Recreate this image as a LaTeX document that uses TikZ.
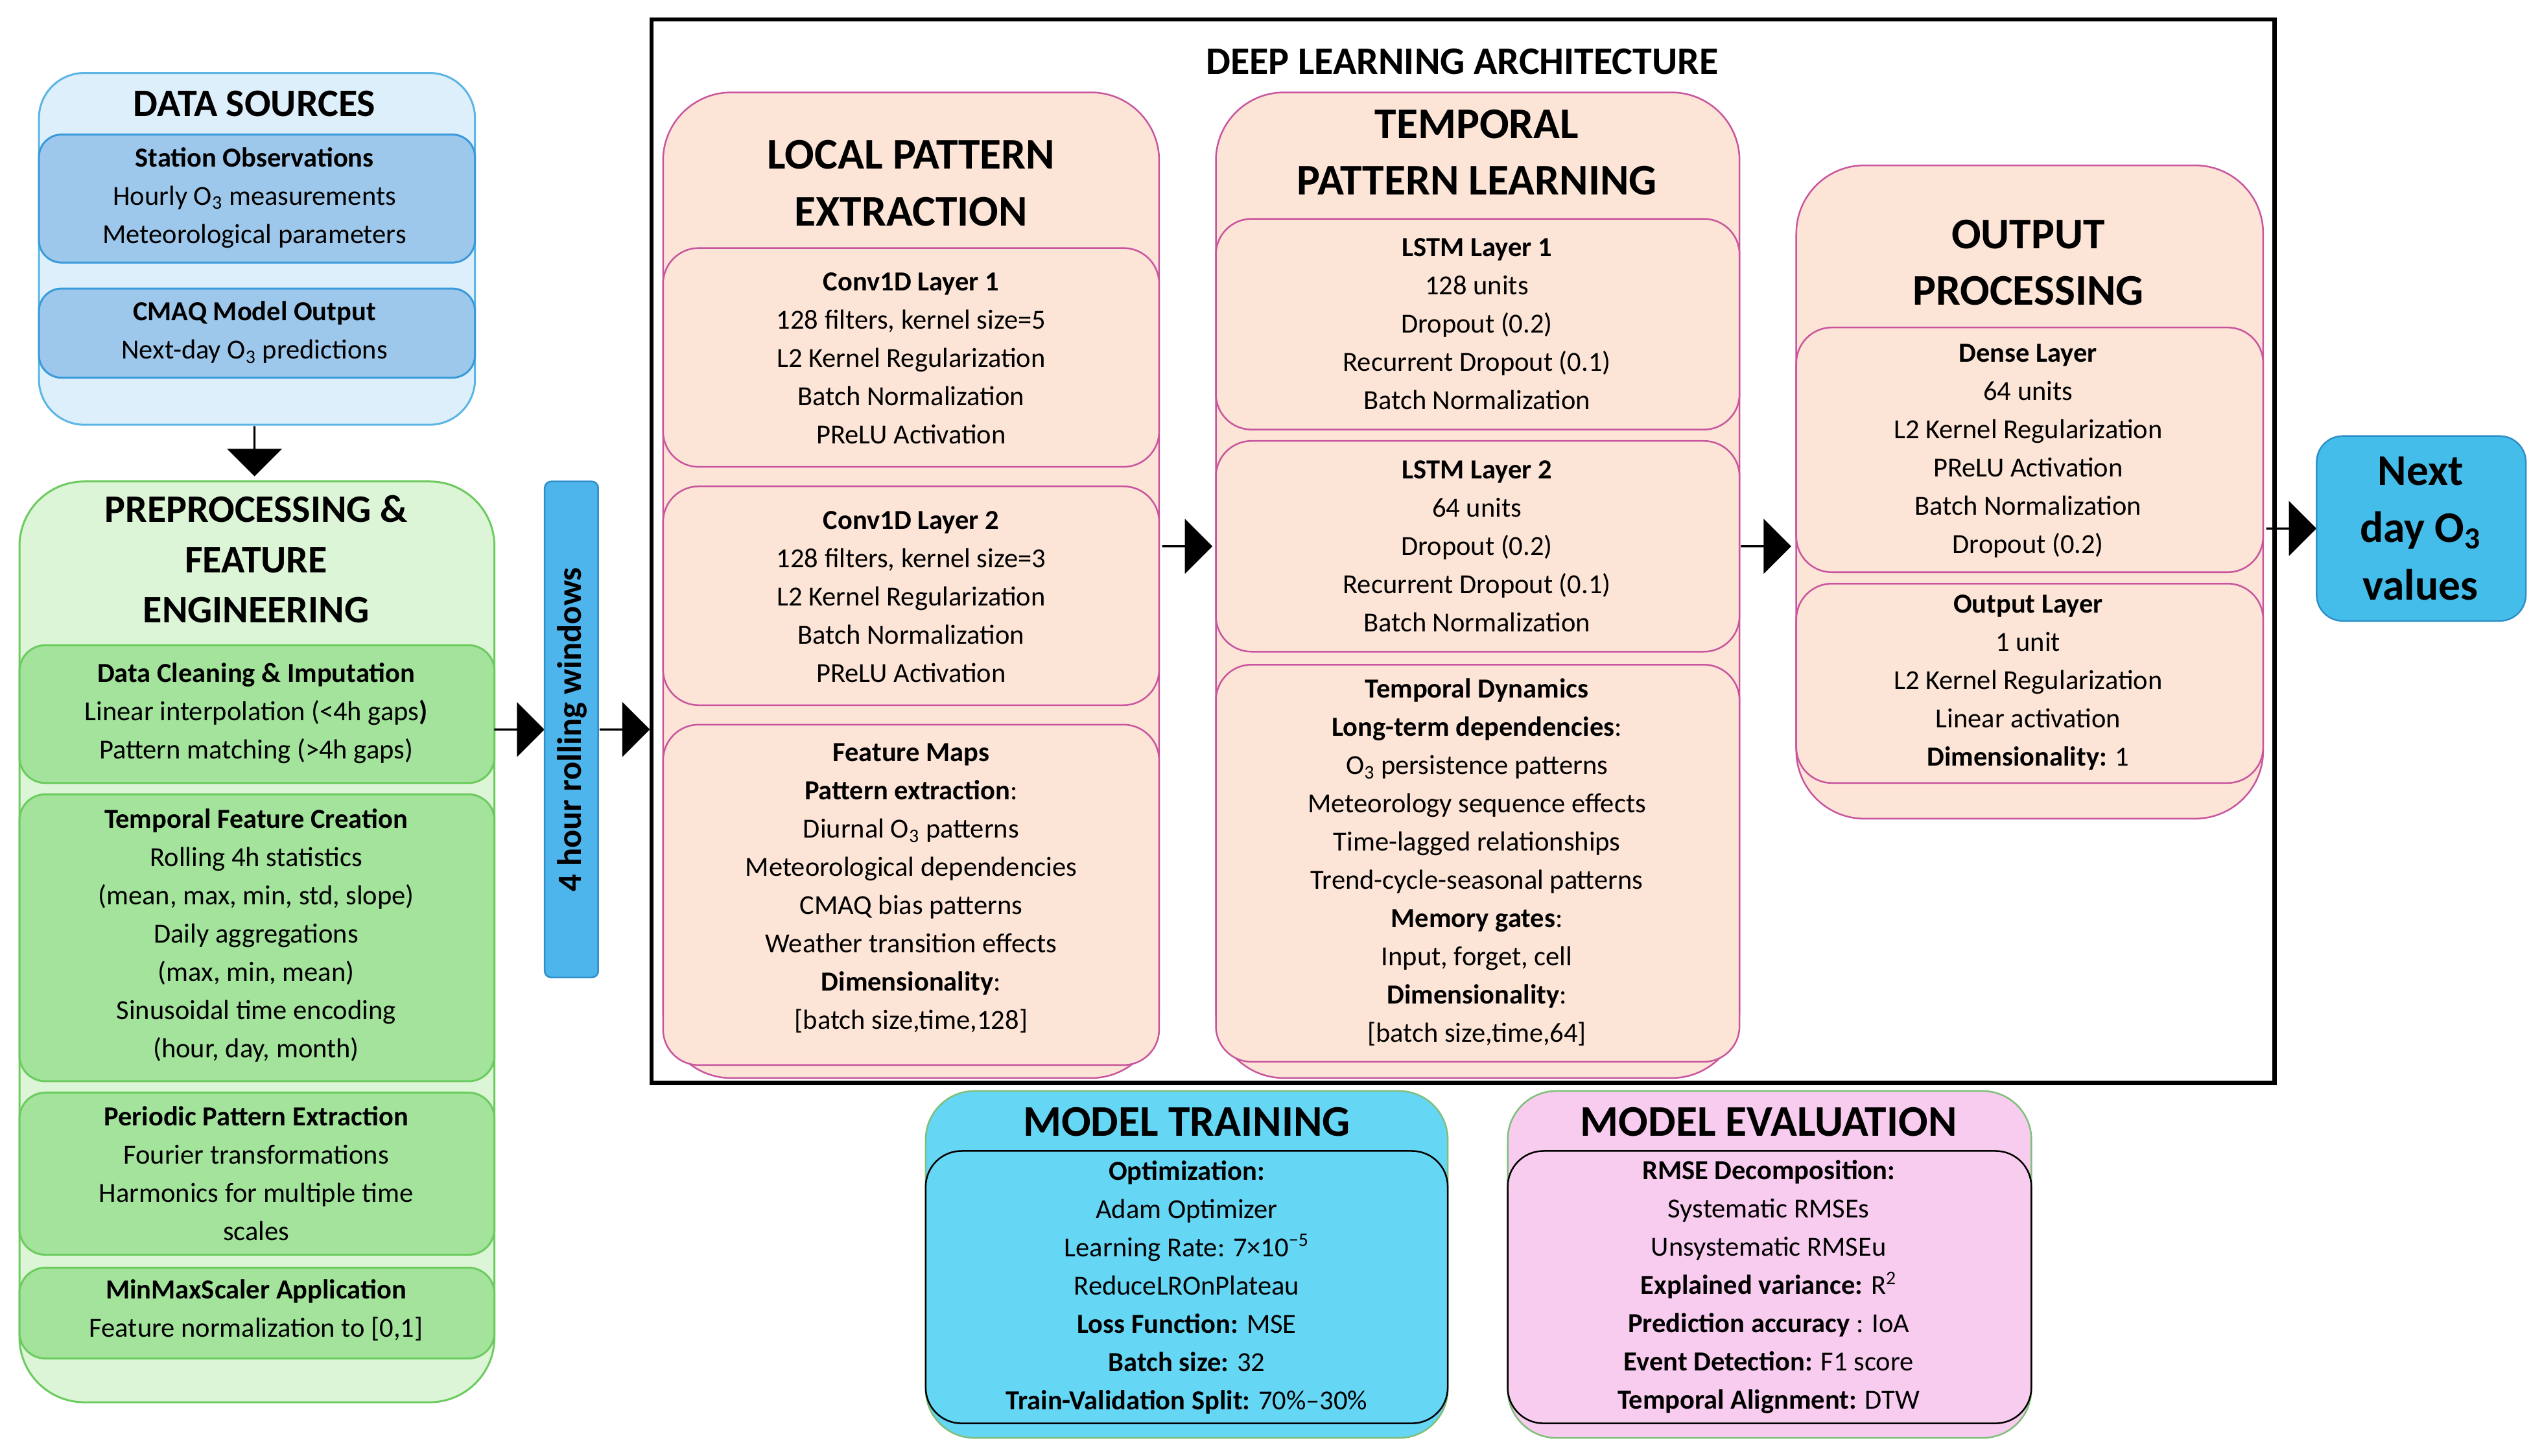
\documentclass[tikz,border=0pt]{standalone}
\usepackage{fontspec}
\setmainfont{Carlito}
\usetikzlibrary{shapes.arrows}
\definecolor{dsO}{HTML}{DDEFFB}\definecolor{dsB}{HTML}{5BB5E5}\definecolor{dsI}{HTML}{9DC8EC}\definecolor{dsIB}{HTML}{3A9AD9}
\definecolor{prO}{HTML}{DDF5D7}\definecolor{prB}{HTML}{6CCB5F}\definecolor{prI}{HTML}{A3E39C}
\definecolor{rolF}{HTML}{4DB5EC}\definecolor{rolB}{HTML}{2F8FC8}
\definecolor{pch}{HTML}{FCE4D6}\definecolor{mag}{HTML}{C8559E}
\definecolor{nxF}{HTML}{45BDEB}
\definecolor{trF}{HTML}{66D6F5}\definecolor{evF}{HTML}{F8CCEE}\definecolor{grB}{HTML}{7FBF7A}
\newcommand\bx[6]{\node[#2,inner sep=0,outer sep=0,minimum width={(#5-#3)*1pt},minimum height={(#6-#4)*1pt}] (#1) at ({(#3+#5)/2},{(#4+#6)/2}) {};}
\newcommand\tx[5]{\node[align=center,inner sep=0,font=#4] (#1) at (#2,#3) {#5};}
\newcommand\bd{\fontsize{17}{23.6}\selectfont}
\newcommand\ttl{\fontsize{24}{31}\selectfont\bfseries}
\newcommand\bigtt{\fontsize{27}{35}\selectfont\bfseries}
\newcommand\sbt{\textsubscript{3}}
\tikzset{
 dso/.style={draw=dsB,fill=dsO,line width=1.2pt,rounded corners=28pt},
 dsi/.style={draw=dsIB,fill=dsI,line width=1.2pt,rounded corners=14pt},
 pro/.style={draw=prB,fill=prO,line width=1.2pt,rounded corners=40pt},
 pri/.style={draw=prB,fill=prI,line width=1.2pt,rounded corners=16pt},
 dlo/.style={draw=mag,fill=pch,line width=1pt,rounded corners=42pt},
 dli/.style={draw=mag,fill=pch,line width=1pt,rounded corners=22pt},
 blk/.style={single arrow,fill=black,draw=none,minimum height=31pt,minimum width=34pt,single arrow head extend=5pt,inner sep=0,single arrow tip angle=90},
}
\begin{document}
\begin{tikzpicture}[x=1pt,y=-1pt]
\useasboundingbox (0,0) rectangle (1568,898);
\fill[white] (0,0) rectangle (1568,898);
% data sources
\bx{ds}{dso}{24}{45}{293}{262}
\tx{dst}{157}{64}{\ttl}{DATA SOURCES}
\bx{ds1}{dsi}{24}{83}{293}{162}
\tx{ds1t}{157}{122}{\bd}{\textbf{Station Observations}\\Hourly O\sbt{} measurements\\Meteorological parameters}
\bx{ds2}{dsi}{24}{178}{293}{233}
\tx{ds2t}{157}{205}{\bd}{\textbf{CMAQ Model Output}\\Next-day O\sbt{} predictions}
\node[blk,rotate=-90] (a1) at (157,278) {};
% preprocessing
\bx{pr}{pro}{12}{297}{305}{865}
\tx{prt}{158}{345}{\ttl}{PREPROCESSING \&\\FEATURE\\ENGINEERING}
\bx{pr1}{pri}{12}{398}{305}{483}
\tx{pr1t}{158}{440}{\bd}{\textbf{Data Cleaning \& Imputation}\\Linear interpolation (<4h gaps\textbf{)}\\Pattern matching (>4h gaps)}
\bx{pr2}{pri}{12}{490}{305}{667}
\tx{pr2t}{158}{577}{\bd}{\textbf{Temporal Feature Creation}\\Rolling 4h statistics\\(mean, max, min, std, slope)\\Daily aggregations\\(max, min, mean)\\Sinusoidal time encoding\\(hour, day, month)}
\bx{pr3}{pri}{12}{674}{305}{774}
\tx{pr3t}{158}{724}{\bd}{\textbf{Periodic Pattern Extraction}\\Fourier transformations\\Harmonics for multiple time\\scales}
\bx{pr4}{pri}{12}{782}{305}{838}
\tx{pr4t}{158}{808}{\bd}{\textbf{MinMaxScaler Application}\\Feature normalization to [0,1]}
\node[blk] (a2) at (320,450) {};
\bx{rol}{draw=rolB,fill=rolF,line width=1pt,rounded corners=4pt}{336}{297}{369}{603}
\tx{rolt}{353}{450}{\fontsize{21}{25}\selectfont\bfseries}{\rotatebox{90}{4 hour rolling windows}}
\node[blk] (a3) at (385,450) {};
% DL
\bx{dl}{draw=black,line width=2.5pt}{402}{12}{1403}{668}
\tx{dlt}{902}{38}{\ttl}{DEEP LEARNING ARCHITECTURE}
\bx{lp}{dlo}{409}{57}{715}{665}
\tx{lpt}{562}{113}{\bigtt}{LOCAL PATTERN\\EXTRACTION}
\bx{lp1}{dli}{409}{153}{715}{288}
\tx{lp1t}{562}{221}{\bd}{\textbf{Conv1D Layer 1}\\128 filters, kernel size=5\\L2 Kernel Regularization\\Batch Normalization\\PReLU Activation}
\bx{lp2}{dli}{409}{300}{715}{435}
\tx{lp2t}{562}{368}{\bd}{\textbf{Conv1D Layer 2}\\128 filters, kernel size=3\\L2 Kernel Regularization\\Batch Normalization\\PReLU Activation}
\bx{lp3}{dli}{409}{447}{715}{657}
\tx{lp3t}{562}{548}{\bd}{\textbf{Feature Maps}\\\textbf{Pattern extraction}:\\Diurnal O\sbt{} patterns\\Meteorological dependencies\\CMAQ bias patterns\\Weather transition effects\\\textbf{Dimensionality}:\\{}[batch size,time,128]}
\node[blk] (a4) at (732,337) {};
\bx{tp}{dlo}{750}{57}{1073}{665}
\tx{tpt}{911}{94}{\bigtt}{TEMPORAL\\PATTERN LEARNING}
\bx{tp1}{dli}{750}{135}{1073}{265}
\tx{tp1t}{911}{200}{\bd}{\textbf{LSTM Layer 1}\\128 units\\Dropout (0.2)\\Recurrent Dropout (0.1)\\Batch Normalization}
\bx{tp2}{dli}{750}{272}{1073}{402}
\tx{tp2t}{911}{337}{\bd}{\textbf{LSTM Layer 2}\\64 units\\Dropout (0.2)\\Recurrent Dropout (0.1)\\Batch Normalization}
\bx{tp3}{dli}{750}{410}{1073}{655}
\tx{tp3t}{911}{532}{\bd}{\textbf{Temporal Dynamics}\\\textbf{Long-term dependencies}:\\O\sbt{} persistence patterns\\Meteorology sequence effects\\Time-lagged relationships\\Trend-cycle-seasonal patterns\\\textbf{Memory gates}:\\Input, forget, cell\\\textbf{Dimensionality}:\\{}[batch size,time,64]}
\node[blk] (a5) at (1089,337) {};
\bx{op}{dlo}{1108}{102}{1396}{505}
\tx{opt}{1251}{162}{\bigtt}{OUTPUT\\PROCESSING}
\bx{op1}{dli}{1108}{202}{1396}{353}
\tx{op1t}{1251}{278}{\bd}{\textbf{Dense Layer}\\64 units\\L2 Kernel Regularization\\PReLU Activation\\Batch Normalization\\Dropout (0.2)}
\bx{op2}{dli}{1108}{360}{1396}{483}
\tx{op2t}{1251}{421}{\bd}{\textbf{Output Layer}\\1 unit\\L2 Kernel Regularization\\Linear activation\\\textbf{Dimensionality:} 1}
\node[blk] (a6) at (1413,326) {};
\bx{nx}{draw=rolB,fill=nxF,line width=1pt,rounded corners=16pt}{1429}{269}{1558}{383}
\tx{nxt}{1493}{326}{\fontsize{27}{35.5}\selectfont\bfseries}{Next\\day O\sbt\\values}
% training
\bx{tr}{draw=grB,fill=trF,line width=1pt,rounded corners=30pt}{571}{673}{893}{887}
\tx{trt}{732}{692}{\bigtt}{MODEL TRAINING}
\bx{tr1}{draw=black,fill=trF,line width=1pt,rounded corners=22pt}{571}{710}{893}{878}
\tx{tr1t}{732}{794}{\bd}{\textbf{Optimization:}\\Adam Optimizer\\Learning Rate: 7×10\textsuperscript{−5}\\ReduceLROnPlateau\\\textbf{Loss Function:} MSE\\\textbf{Batch size:} 32\\\textbf{Train-Validation Split:} 70\%–30\%}
\bx{ev}{draw=grB,fill=evF,line width=1pt,rounded corners=30pt}{930}{673}{1253}{887}
\tx{evt}{1091}{692}{\bigtt}{MODEL EVALUATION}
\bx{ev1}{draw=black,fill=evF,line width=1pt,rounded corners=22pt}{930}{710}{1253}{878}
\tx{ev1t}{1091}{794}{\bd}{\textbf{RMSE Decomposition:}\\Systematic RMSEs\\Unsystematic RMSEu\\\textbf{Explained variance:} R\textsuperscript{2}\\\textbf{Prediction accuracy} : IoA\\\textbf{Event Detection:} F1 score\\\textbf{Temporal Alignment:} DTW}
\end{tikzpicture}
\end{document}
